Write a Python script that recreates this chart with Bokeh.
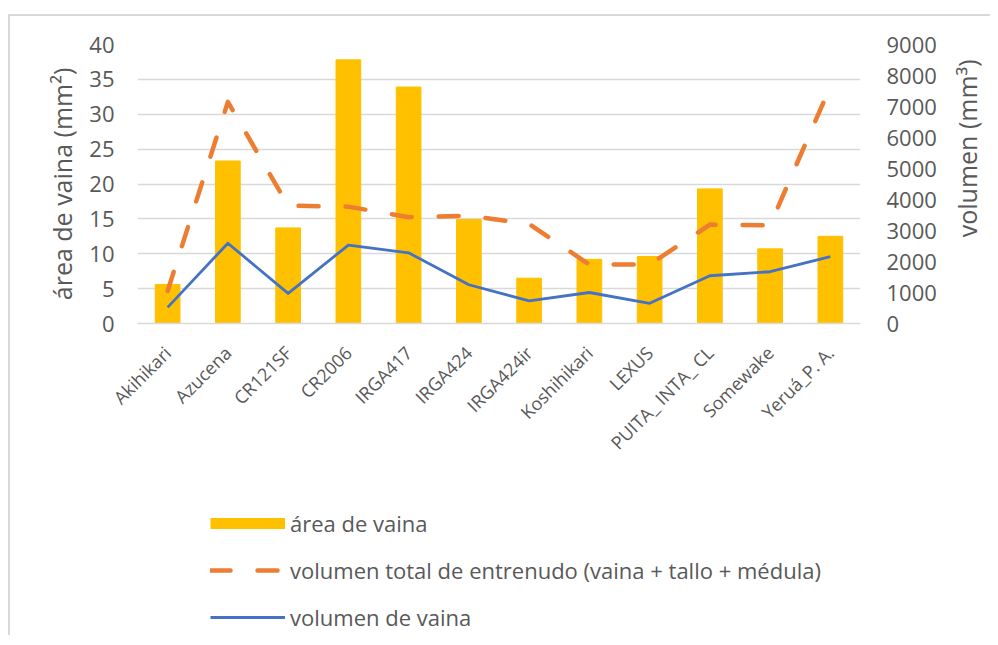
import math
from bokeh.plotting import figure
from bokeh.layouts import column, row
from bokeh.models import (Range1d, LinearAxis, Legend, LegendItem, FixedTicker,
                          ColumnDataSource, Label)
from bokeh.embed import file_html
from bokeh.resources import INLINE

categories = ["Akihikari", "Azucena", "CR121SF", "CR2006", "IRGA417", "IRGA424",
              "IRGA424ir", "Koshihikari", "LEXUS", "PUITA_ INTA_ CL", "Somewake",
              "Yeruá_P. A."]
area_vaina = [5.6, 23.3, 13.7, 37.8, 33.9, 14.9, 6.5, 9.2, 9.6, 19.3, 10.7, 12.5]
vol_total = [1050, 7150, 3800, 3770, 3430, 3480, 3210, 1900, 1900, 3190, 3170, 7650]
vol_vaina = [520, 2590, 970, 2530, 2280, 1250, 730, 1000, 650, 1540, 1670, 2160]

left_ticks = [0, 5, 10, 15, 20, 25, 30, 35, 40]
right_ticks = [0, 1000, 2000, 3000, 4000, 5000, 6000, 7000, 8000, 9000]

left_title = "área de vaina (mm²)"
right_title = "volumen (mm³)"
legend_labels = ["área de vaina",
                 "volumen total de entrenudo (vaina + tallo + médula)",
                 "volumen de vaina"]

FONT = "Open Sans"
TXT = "#595959"
GRID = "#d9d9d9"
C_BAR = "#FFC000"
C_TOT = "#ED7D31"
C_VAI = "#4472C4"

src = ColumnDataSource(dict(cat=categories, area=area_vaina,
                            vt=vol_total, vv=vol_vaina))

# ---------------- main chart ----------------
p = figure(x_range=categories, y_range=Range1d(0, 40),
           frame_width=723, frame_height=279,
           min_border_left=127, min_border_right=80,
           min_border_top=28, min_border_bottom=140,
           output_backend="svg", toolbar_location=None)
p.outline_line_color = None
p.background_fill_color = "white"
p.border_fill_color = "white"
p.extra_y_ranges = {"vol": Range1d(0, 9000)}

p.xgrid.grid_line_color = None
p.ygrid.grid_line_color = GRID
p.ygrid.grid_line_width = 1.5
p.ygrid.ticker = FixedTicker(ticks=left_ticks)

p.vbar(x="cat", top="area", width=0.41, color=C_BAR, source=src)
p.line(x="cat", y="vt", y_range_name="vol", source=src,
       line_color=C_TOT, line_width=4.5, line_dash="20 27",
       line_cap="round", line_join="round")
p.line(x="cat", y="vv", y_range_name="vol", source=src,
       line_color=C_VAI, line_width=2.8, line_join="round")

ya = p.yaxis[0]
ya.ticker = FixedTicker(ticks=left_ticks)
ya.axis_line_color = None
ya.major_tick_line_color = None
ya.minor_tick_line_color = None
ya.major_label_standoff = 17
ya.major_label_text_font = FONT
ya.major_label_text_font_size = "22px"
ya.major_label_text_color = TXT
ya.axis_label = left_title
ya.axis_label_text_font = FONT
ya.axis_label_text_font_size = "25px"
ya.axis_label_text_font_style = "normal"
ya.axis_label_text_color = TXT
ya.axis_label_standoff = 7

ra = LinearAxis(y_range_name="vol", ticker=FixedTicker(ticks=right_ticks))
ra.axis_line_color = None
ra.major_tick_line_color = None
ra.minor_tick_line_color = None
ra.major_label_standoff = 20
ra.major_label_text_font = FONT
ra.major_label_text_font_size = "22px"
ra.major_label_text_color = TXT
p.add_layout(ra, "right")

xa = p.xaxis[0]
xa.axis_line_color = GRID
xa.axis_line_width = 1.5
xa.major_tick_line_color = None
xa.minor_tick_line_color = None
xa.major_label_orientation = math.pi / 4
xa.major_label_standoff = 20
xa.major_label_text_font = FONT
xa.major_label_text_font_size = "18px"
xa.major_label_text_color = TXT

MAIN_H = 28 + 279 + 140

# ---------------- right title strip ----------------
lab = figure(width=50, height=MAIN_H, x_range=Range1d(0, 50),
             y_range=Range1d(0, MAIN_H), min_border=0,
             x_axis_type=None, y_axis_type=None,
             output_backend="svg", toolbar_location=None)
lab.grid.visible = False
lab.outline_line_color = None
lab.add_layout(Label(x=26, y=MAIN_H - 167.5, text=right_title, angle=math.pi / 2,
                     text_align="center", text_baseline="middle",
                     text_font=FONT, text_font_size="25px", text_color=TXT))

# ---------------- legend strip ----------------
LEG_H = 170
leg = figure(width=980, height=LEG_H, x_range=Range1d(0, 1), y_range=Range1d(0, 1),
             min_border=0, x_axis_type=None, y_axis_type=None,
             output_backend="svg", toolbar_location=None)
leg.grid.visible = False
leg.outline_line_color = None
# placeholder renderers lying outside the visible range (only their legend swatches show)
r_bar = leg.line(x=[5, 6], y=[5, 5], line_color=C_BAR, line_width=11, line_cap="butt")
r_tot = leg.line(x=[5, 6], y=[5, 5], line_color=C_TOT, line_width=4.5,
                 line_dash="20 27", line_cap="round")
r_vai = leg.line(x=[5, 6], y=[5, 5], line_color=C_VAI, line_width=2.8)

legend = Legend(items=[
    LegendItem(label=legend_labels[0], renderers=[r_bar]),
    LegendItem(label=legend_labels[1], renderers=[r_tot]),
    LegendItem(label=legend_labels[2], renderers=[r_vai]),
], location=(200, 3), orientation="vertical")
legend.border_line_color = None
legend.background_fill_alpha = 0
legend.padding = 0
legend.margin = 0
legend.spacing = 17
legend.glyph_width = 75
legend.glyph_height = 22
legend.label_standoff = 5
legend.label_text_font = FONT
legend.label_text_font_size = "22px"
legend.label_text_color = TXT
leg.add_layout(legend, "center")

layout = column(row(p, lab), leg,
                styles={"border-left": "2px solid #d9d9d9",
                        "border-top": "2px solid #d9d9d9",
                        "margin-top": "14px", "margin-left": "8px"})

open("out.html", "w").write(file_html(layout, INLINE))
